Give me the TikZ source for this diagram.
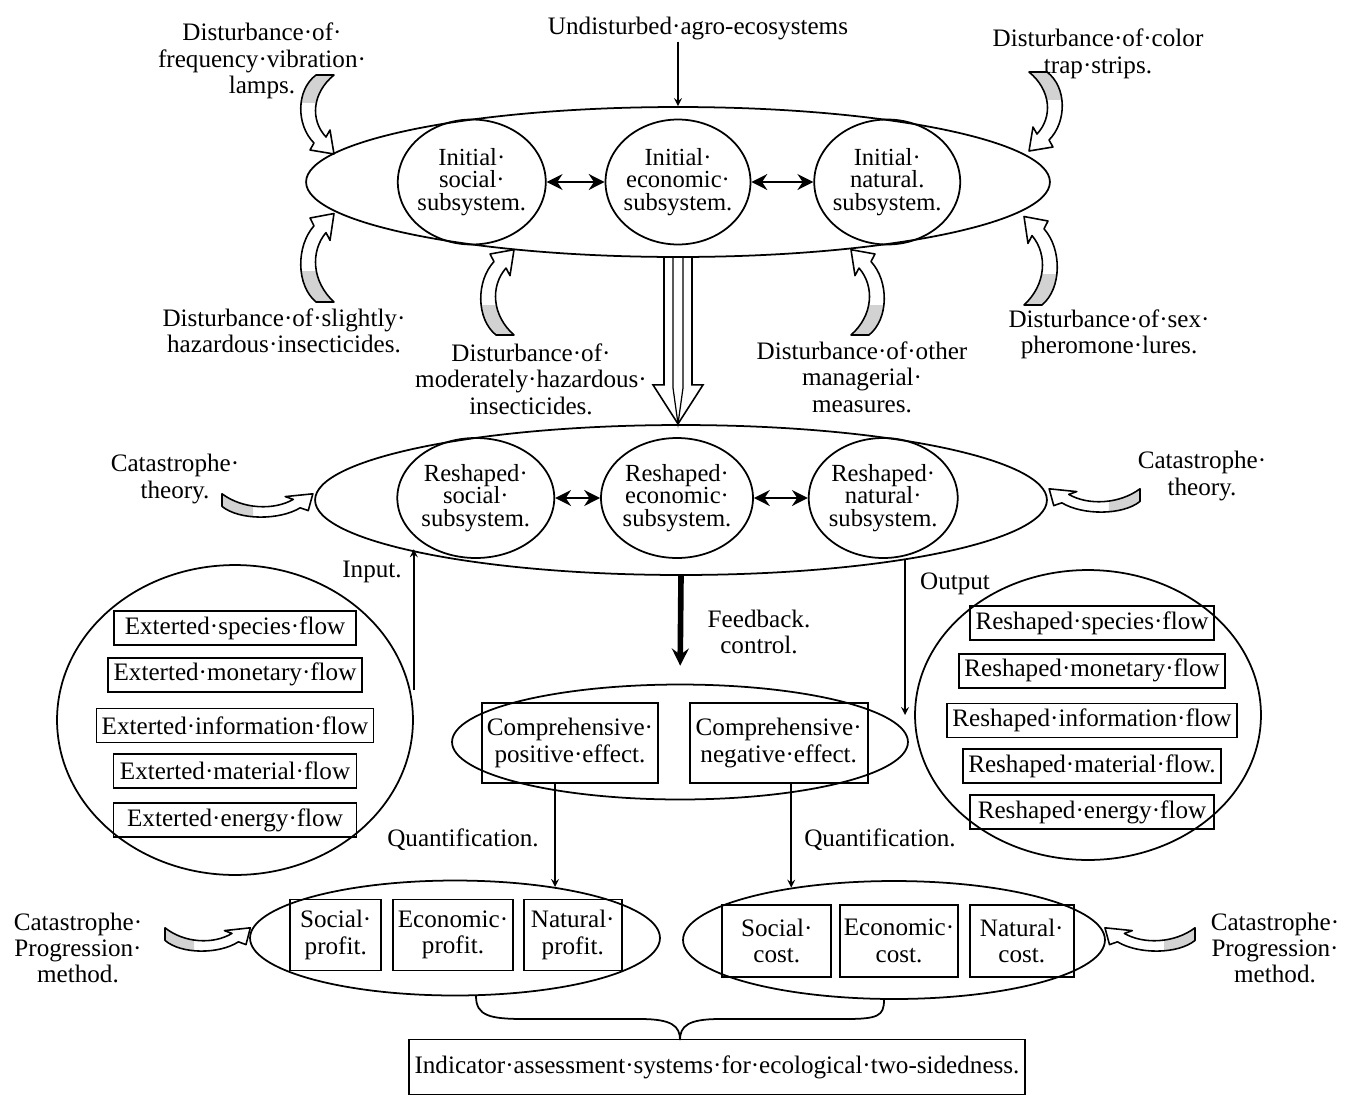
\documentclass[tikz,border=0pt]{standalone}
\usepackage{fontspec}
\setmainfont{Liberation Serif}
\usetikzlibrary{shapes.geometric, arrows, arrows.meta}
\usetikzlibrary{shapes,positioning}
\tikzstyle{arrow} = [line width=1pt,->,>=stealth]
\tikzstyle{twoway} = [line width=1.5pt,{Stealth[length=9pt,width=9pt]}-{Stealth[length=9pt,width=9pt]}]
\tikzstyle{ring} = [draw, ellipse, line width=1pt, inner sep=0pt]
\tikzstyle{subsys} = [draw, ellipse, line width=1pt, inner xsep=-0.7cm, inner ysep=-0.5cm, minimum height=2.5cm, align=center, font=\fontsize{14}{12.8}\selectfont]
\tikzstyle{flowbox} = [draw, line width=1pt, minimum height=0.68cm, inner xsep=3pt, inner ysep=0pt]
\tikzstyle{effbox} = [draw, line width=1pt, align=center, minimum height=1.6cm, inner sep=2pt]
\tikzstyle{smallbox} = [draw, line width=1pt, align=center, minimum height=1.42cm, inner sep=2pt]
\tikzstyle{lbl} = [align=center, inner sep=1pt]

% grey curved arrow, tail at (0,0), head near (16,-79)
\newcommand{\swirlpath}{(-2,0) .. controls (-22,-15) and (-22,-50) .. (-4,-68) -- (-8,-75) -- (16,-79) -- (12,-55) -- (8,-62) .. controls (-8,-45) and (-6,-18) .. (16,0) -- cycle}
\newcommand{\swirl}[1]{%
  \begin{scope}[#1]
    \fill[white] \swirlpath;
    \begin{scope}
      \clip (-40,4) rectangle (40,-27);
      \fill[gray!35] \swirlpath;
    \end{scope}
    \draw[line width=0.9pt, line join=round] \swirlpath;
  \end{scope}}

\begin{document}
\begin{tikzpicture}[x=0.02cm, y=0.02cm, font=\fontsize{14.3}{15}\selectfont]
    \useasboundingbox (0,0) rectangle (1349,-1096);
    % first layer
    \node[ring, minimum width=14.88cm, minimum height=3cm] (top) at (678,-182) {};
    \node[subsys, minimum width=2.9cm] (ie) at (top.center) {Initial·\\economic·\\subsystem.};
    \node[subsys, minimum width=2.96cm] (is) [left=1.16cm of ie] {Initial·\\social·\\subsystem.};
    \node[subsys, minimum width=2.92cm] (in) [right=1.24cm of ie] {Initial·\\natural.\\subsystem.};
    % second layer
    \node[ring, minimum width=14.64cm, minimum height=3cm] (mid) at (681,-500) {};
    \node[subsys, minimum width=3.04cm, minimum height=2.4cm] (re) at (677,-498) {Reshaped·\\economic·\\subsystem.};
    \node[subsys, minimum width=3.14cm, minimum height=2.4cm] (rs) [left=0.9cm of re] {Reshaped·\\social·\\subsystem.};
    \node[subsys, minimum width=2.98cm, minimum height=2.4cm] (rn) [right=1.08cm of re] {Reshaped·\\natural·\\subsystem.};
    % input flows
    \node[ring, minimum width=7.12cm, minimum height=6.2cm] (lc) at (235,-720) {};
    \node[flowbox, minimum width=4.84cm] (ex1) at (235,-628) {Exterted·species·flow};
    \node[flowbox, minimum width=4.86cm] (ex2) [below=0.22cm of ex1] {Exterted·monetary·flow};
    \node[flowbox, minimum width=4.86cm] (ex3) [below=0.3cm of ex2] {Exterted·information·flow};
    \node[flowbox, minimum width=4.86cm] (ex4) [below=0.2cm of ex3] {Exterted·material·flow};
    \node[flowbox, minimum width=4.86cm] (ex5) [below=0.26cm of ex4] {Exterted·energy·flow};
    % output flows
    \node[ring, minimum width=6.92cm, minimum height=5.8cm] (rc) at (1088,-715) {};
    \node[flowbox, minimum width=4.88cm] (rf1) at (1092,-623) {Reshaped·species·flow};
    \node[flowbox, minimum width=4.88cm] (rf2) [below=0.24cm of rf1] {Reshaped·monetary·flow};
    \node[flowbox, minimum width=4.88cm] (rf3) [below=0.28cm of rf2] {Reshaped·information·flow};
    \node[flowbox, minimum width=4.88cm] (rf4) [below=0.2cm of rf3] {Reshaped·material·flow.};
    \node[flowbox, minimum width=4.88cm] (rf5) [below=0.2cm of rf4] {Reshaped·energy·flow};
    % effects
    \node[ring, minimum width=9.12cm, minimum height=2.3cm] (eff) at (680,-742) {};
    \node[effbox, minimum width=3.52cm] (pos) at (570,-743) {Comprehensive·\\positive·effect.};
    \node[effbox, minimum width=3.56cm] (neg) [right=0.6cm of pos] {Comprehensive·\\negative·effect.};
    % profit and cost
    \node[ring, minimum width=8.2cm, minimum height=2.3cm] (ple) at (455,-938) {};
    \node[smallbox, minimum width=2.4cm] (ep) at (453,-935) {Economic·\\profit.};
    \node[smallbox, minimum width=1.82cm] (sp) [left=0.2cm of ep] {Social·\\profit.};
    \node[smallbox, minimum width=1.96cm] (np) [right=0.18cm of ep] {Natural·\\profit.};
    \node[ring, minimum width=8.44cm, minimum height=2.36cm] (pre) at (894,-940) {};
    \node[smallbox, minimum width=2.36cm, minimum height=1.44cm] (ec) at (899,-941) {Economic·\\cost.};
    \node[smallbox, minimum width=2.18cm, minimum height=1.44cm] (sc) [left=0.14cm of ec] {Social·\\cost.};
    \node[smallbox, minimum width=2.08cm, minimum height=1.44cm] (nc) [right=0.2cm of ec] {Natural·\\cost.};
    \node[draw, line width=1pt, minimum width=12.3cm, minimum height=1.1cm] (ind) at (717,-1067) {Indicator·assessment·systems·for·ecological·two-sidedness.};
    % labels
    \node[lbl] (und) at (698,-28) {Undisturbed·agro-ecosystems};
    \node[lbl] (dfl) at (262,-61) {Disturbance·of·\\frequency·vibration·\\lamps.};
    \node[lbl] (dct) at (1098,-54) {Disturbance·of·color\\trap·strips.};
    \node[lbl] (dsh) at (284,-331) {Disturbance·of·slightly·\\hazardous·insecticides.};
    \node[lbl] (dmh) at (531,-379) {Disturbance·of·\\moderately·hazardous·\\insecticides.};
    \node[lbl] (dom) at (862,-377) {Disturbance·of·other\\managerial·\\measures.};
    \node[lbl] (dsp) at (1109,-334) {Disturbance·of·sex·\\pheromone·lures.};
    \node[lbl] (ctl) at (175,-479) {Catastrophe·\\theory.};
    \node[lbl] (ctr) at (1202,-476) {Catastrophe·\\theory.};
    \node[lbl] (inp) at (372,-572) {Input.};
    \node[lbl] (outp) at (955,-584) {Output};
    \node[lbl] (fbk) at (759,-632) {Feedback.\\control.};
    \node[lbl] (qa) at (463,-840) {Quantification.};
    \node[lbl] (qb) at (880,-840) {Quantification.};
    \node[lbl] (cpl) at (78,-948) {Catastrophe·\\Progression·\\method.};
    \node[lbl] (cpr) at (1275,-948) {Catastrophe·\\Progression·\\method.};

    % connectors
    \draw[arrow] (und.south -| top.north) -- (top.north);
    \draw[twoway] (is) -- (ie);
    \draw[twoway] (ie) -- (in);
    \draw[twoway] (rs) -- (re);
    \draw[twoway] (re) -- (rn);
    \begin{scope}[shift={(top.south)}]
        \draw[line width=0.9pt] (-14,0) -- (-14,-127) -- (-25,-127) -- (0,-166) -- (25,-127) -- (14,-127) -- (14,0);
        \draw[line width=0.7pt] (-5,0) -- (-5,-130) -- (0,-166) -- (5,-130) -- (5,0);
    \end{scope}
    \draw[arrow] ([yshift=0.6cm]lc.east) -- (mid.190.8 -| lc.east);
    \draw[arrow] (mid.345.4) -- (mid.345.4 |- rc.west);
    \draw[line width=3.2pt, ->, >=stealth, shorten >=0.36cm] (mid.south) -- (eff.north);
    \draw[arrow] (ple.27.5 |- pos.south) -- (ple.27.5);
    \draw[arrow] (pre.153.9 |- neg.south) -- (pre.153.9);
    % brace
    \coordinate (brl) at (476,-996);
    \coordinate (brr) at (884,-1000);
    \coordinate (brt) at (680,-1040);
    \draw[line width=1pt] (brl) .. controls (476,-1016) and (490,-1019) .. (525,-1019) -- (640,-1019)
        .. controls (672,-1019) and (680,-1026) .. (brt)
        .. controls (680,-1026) and (688,-1019) .. (720,-1019) -- (845,-1019)
        .. controls (878,-1019) and (884,-1016) .. (brr);
    % curved arrows
    \swirl{shift={(318,-75)}}
    \swirl{shift={(318,-302)}, yscale=-1.12}
    \swirl{shift={(1045,-72)}, xscale=-1}
    \swirl{shift={(1040,-305)}, xscale=-1, yscale=-1.12}
    \swirl{shift={(498,-335)}, yscale=-1.08}
    \swirl{shift={(867,-335)}, xscale=-1, yscale=-1.08}
    \swirl{shift={(222,-505)}, cm={0,0.7,-1.15,0,(0,0)}}
    \swirl{shift={(1140,-500)}, cm={0,0.7,1.15,0,(0,0)}}
    \swirl{shift={(165,-939)}, cm={0,0.7,-1.08,0,(0,0)}}
    \swirl{shift={(1195,-939)}, cm={0,0.7,1.14,0,(0,0)}}
\end{tikzpicture}
\end{document}
